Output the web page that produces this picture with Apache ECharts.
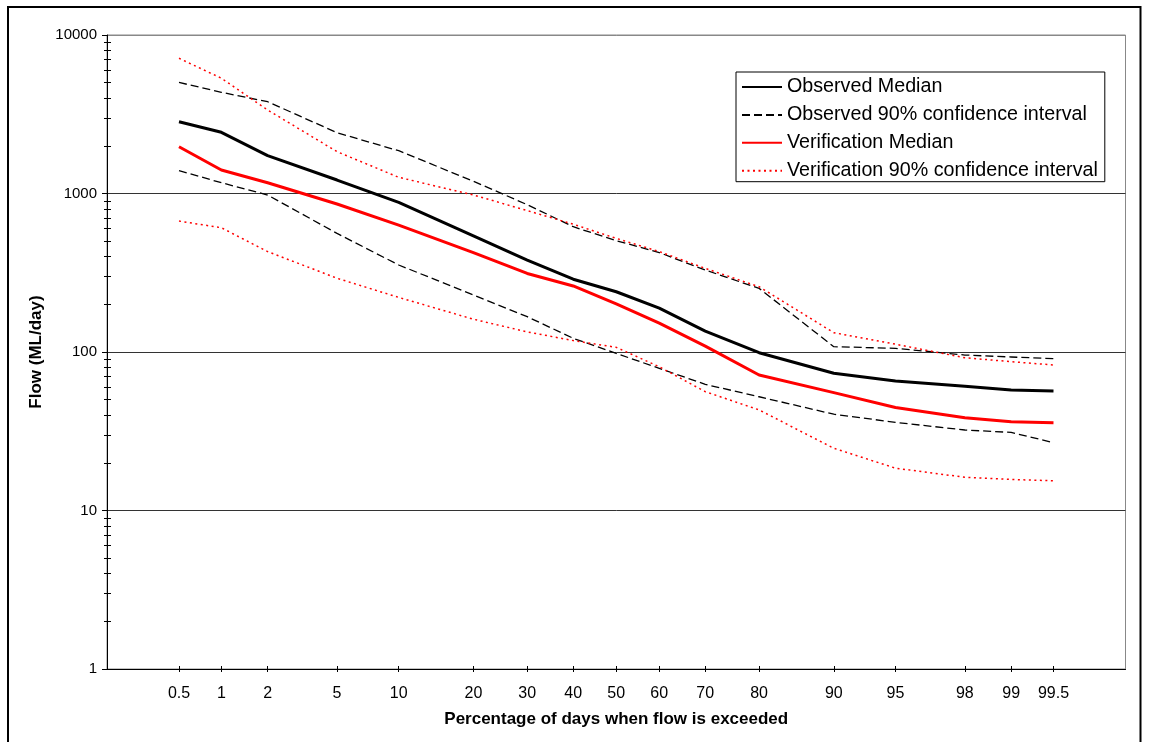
<!DOCTYPE html>
<html><head><meta charset="utf-8">
<script src="https://cdn.jsdelivr.net/npm/echarts@6/dist/echarts.min.js"></script>
<style>html,body{margin:0;padding:0;background:#fff}#c{width:1160px;height:742px}</style>
</head><body><div id="c"></div>
<script>
// Exceedance percentages (x categories on a probability scale)
const percentages = [0.5, 1, 2, 5, 10, 20, 30, 40, 50, 60, 70, 80, 90, 95, 98, 99, 99.5];
const xTickLabels = ['0.5', '1', '2', '5', '10', '20', '30', '40', '50', '60', '70', '80', '90', '95', '98', '99', '99.5'];
const yTickLabels = ['1', '10', '100', '1000', '10000'];

// Flow (ML/day)
const observedMedian = [2838, 2432, 1733, 1216, 879, 540, 380, 288, 240, 189, 135.5, 99, 73.4, 65.6, 60.9, 57.5, 56.7];
const observedUpper  = [5020, 4349, 3793, 2420, 1862, 1195, 850, 617, 504, 424, 329, 252, 108, 105.5, 95.7, 93, 90.8];
const observedLower  = [1393, 1170, 978, 560, 354, 229, 167, 122, 98, 78.9, 62.5, 52.2, 40.5, 36.0, 32.2, 31.1, 26.8];
const verificationMedian = [1972, 1406, 1170, 859, 632, 424, 313, 261, 201, 152, 109, 71.6, 55.4, 44.6, 38.5, 36.3, 35.8];
const verificationUpper  = [7129, 5337, 3365, 1836, 1265, 979, 780, 640, 521, 430, 337, 258, 132.4, 112, 92, 86.9, 82.8];
const verificationLower  = [670, 608, 430, 292, 221, 161, 134, 118, 107, 80.7, 56.2, 43.1, 24.7, 18.5, 16.2, 15.7, 15.4];

const seriesNames = ['Observed Median', 'Observed 90% confidence interval', 'Verification Median', 'Verification 90% confidence interval'];

// inverse standard normal CDF (Acklam) -> probability-scale axis position
function normInv(p) {
  const a = [-3.969683028665376e+01, 2.209460984245205e+02, -2.759285104469687e+02, 1.383577518672690e+02, -3.066479806614716e+01, 2.506628277459239e+00];
  const b = [-5.447609879822406e+01, 1.615858368580409e+02, -1.556989798598866e+02, 6.680131188771972e+01, -1.328068155288572e+01];
  const c = [-7.784894002430293e-03, -3.223964580411365e-01, -2.400758277161838e+00, -2.549732539343734e+00, 4.374664141464968e+00, 2.938163982698783e+00];
  const d = [7.784695709041462e-03, 3.224671290700398e-01, 2.445134137142996e+00, 3.754408661907416e+00];
  const pl = 0.02425, ph = 1 - pl;
  let q, r;
  if (p < pl) { q = Math.sqrt(-2 * Math.log(p)); return (((((c[0]*q+c[1])*q+c[2])*q+c[3])*q+c[4])*q+c[5]) / ((((d[0]*q+d[1])*q+d[2])*q+d[3])*q+1); }
  if (p <= ph) { q = p - 0.5; r = q*q; return (((((a[0]*r+a[1])*r+a[2])*r+a[3])*r+a[4])*r+a[5])*q / (((((b[0]*r+b[1])*r+b[2])*r+b[3])*r+b[4])*r+1); }
  q = Math.sqrt(-2 * Math.log(1 - p)); return -(((((c[0]*q+c[1])*q+c[2])*q+c[3])*q+c[4])*q+c[5]) / ((((d[0]*q+d[1])*q+d[2])*q+d[3])*q+1);
}
const xs = percentages.map(p => normInv(p / 100));
const pairs = vals => vals.map((v, i) => [xs[i], v]);
const yMajor = yTickLabels.map(Number);
const yMinor = [];
for (let i = 0; i < yMajor.length - 1; i++) for (let k = 2; k <= 9; k++) yMinor.push(k * yMajor[i]);

const FONT = '"Liberation Sans", Arial, sans-serif';
const xLabel = v => { for (let i = 0; i < xs.length; i++) if (Math.abs(xs[i] - v) < 1e-6) return xTickLabels[i]; return ''; };

const baseX = { type: 'value', min: -3, max: 3, position: 'bottom', splitLine: { show: false } };
const baseY = { type: 'log', logBase: 10, min: 1, max: 10000, position: 'left' };

const chart = echarts.init(document.getElementById('c'));
chart.setOption({
  animation: false,
  backgroundColor: '#fff',
  graphic: [{ type: 'rect', shape: { x: 8, y: 7, width: 1132.5, height: 800 }, style: { fill: 'none', stroke: '#000', lineWidth: 2 }, silent: true }],
  grid: { left: 107, right: 34.5, top: 35, bottom: 73, show: true, borderColor: '#888', borderWidth: 1 },
  legend: {
    data: seriesNames, orient: 'vertical', left: 736, top: 72,
    backgroundColor: '#fff', borderColor: '#000', borderWidth: 1,
    padding: [4, 7, 0, 5], itemWidth: 40, itemHeight: 14, itemGap: 5.9,
    itemStyle: { color: 'rgba(0,0,0,0)', borderColor: 'rgba(0,0,0,0)', borderWidth: 0, opacity: 0 },
    textStyle: { fontFamily: FONT, fontSize: 19.7, lineHeight: 22, color: '#000' }
  },
  xAxis: [
    Object.assign({}, baseX, {
      name: 'Percentage of days when flow is exceeded', nameLocation: 'middle', nameGap: 42,
      nameTextStyle: { fontFamily: FONT, fontSize: 17, fontWeight: 'bold', color: '#000' },
      axisLine: { show: true, onZero: false, lineStyle: { color: '#000', width: 1 } },
      axisTick: { show: true, inside: false, length: 3, customValues: xs, lineStyle: { color: '#000' } },
      axisLabel: { show: true, customValues: xs, formatter: xLabel, margin: 16.5, fontFamily: FONT, fontSize: 16, color: '#000' }
    }),
    Object.assign({}, baseX, {
      axisLine: { show: false, onZero: false }, axisLabel: { show: false },
      axisTick: { show: true, inside: true, length: 3, customValues: xs, lineStyle: { color: '#000' } }
    })
  ],
  yAxis: [
    Object.assign({}, baseY, {
      name: 'Flow (ML/day)', nameLocation: 'middle', nameGap: 56, nameRotate: 90,
      nameTextStyle: { fontFamily: FONT, fontSize: 17, fontWeight: 'bold', color: '#000' },
      axisLine: { show: true, onZero: false, lineStyle: { color: '#000', width: 1 } },
      axisTick: { show: true, inside: false, length: 5, customValues: yMajor, lineStyle: { color: '#000' } },
      axisLabel: { customValues: yMajor, formatter: v => String(Math.round(v)), margin: 10, fontFamily: FONT, fontSize: 15, color: '#000' },
      splitLine: { show: true, lineStyle: { color: ['#333', '#333', '#333', '#333', '#888'], width: 1 } }
    }),
    Object.assign({}, baseY, {
      axisLine: { show: false, onZero: false }, axisLabel: { show: false }, splitLine: { show: false },
      axisTick: { show: true, inside: false, length: 3, customValues: yMinor, lineStyle: { color: '#000' } }
    }),
    Object.assign({}, baseY, {
      axisLine: { show: false, onZero: false }, axisLabel: { show: false }, splitLine: { show: false },
      axisTick: { show: true, inside: true, length: 4, customValues: yMinor, lineStyle: { color: '#000' } }
    })
  ],
  series: [
    { name: seriesNames[1], type: 'line', symbol: 'none', data: pairs(observedUpper), lineStyle: { color: '#000', width: 1.3, type: [8, 4] }, itemStyle: { color: '#000' } },
    { name: seriesNames[1], type: 'line', symbol: 'none', data: pairs(observedLower), lineStyle: { color: '#000', width: 1.3, type: [8, 4] }, itemStyle: { color: '#000' } },
    { name: seriesNames[3], type: 'line', symbol: 'none', data: pairs(verificationUpper), lineStyle: { color: '#ff0000', width: 1.5, type: [2, 3.5] }, itemStyle: { color: '#ff0000' } },
    { name: seriesNames[3], type: 'line', symbol: 'none', data: pairs(verificationLower), lineStyle: { color: '#ff0000', width: 1.5, type: [2, 3.5] }, itemStyle: { color: '#ff0000' } },
    { name: seriesNames[0], type: 'line', symbol: 'none', data: pairs(observedMedian), lineStyle: { color: '#000', width: 3 }, itemStyle: { color: '#000' } },
    { name: seriesNames[2], type: 'line', symbol: 'none', data: pairs(verificationMedian), lineStyle: { color: '#ff0000', width: 3 }, itemStyle: { color: '#ff0000' } }
  ]
});
</script></body></html>
